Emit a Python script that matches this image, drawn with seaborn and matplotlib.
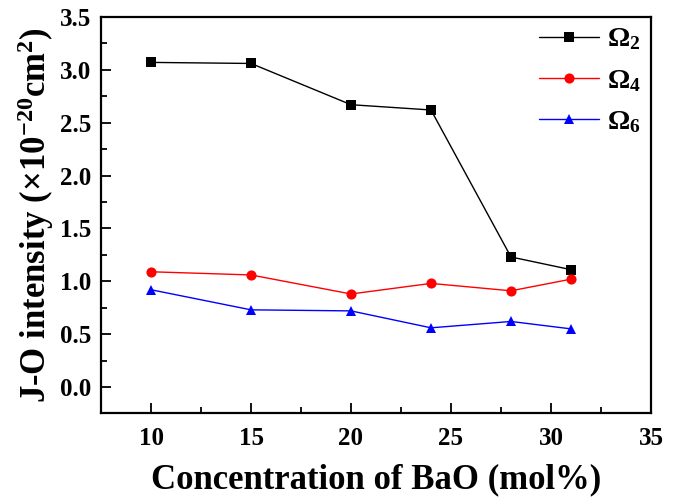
import matplotlib
matplotlib.use("Agg")
import matplotlib.pyplot as plt
import seaborn as sns
import pandas as pd
from matplotlib.ticker import MultipleLocator

# BaO content (mol%) and Judd-Ofelt parameters (x10^-20 cm^2)
bao = [10, 15, 20, 24, 28, 31]
omega2 = [3.07, 3.06, 2.67, 2.62, 1.23, 1.11]
omega4 = [1.09, 1.06, 0.88, 0.98, 0.91, 1.02]
omega6 = [0.92, 0.73, 0.72, 0.56, 0.62, 0.55]
series_labels = [r"$\mathbf{\Omega}_\mathbf{2}$", r"$\mathbf{\Omega}_\mathbf{4}$", r"$\mathbf{\Omega}_\mathbf{6}$"]
x_ticks = [10, 15, 20, 25, 30, 35]
y_ticks = [0.0, 0.5, 1.0, 1.5, 2.0, 2.5, 3.0, 3.5]

df = pd.concat([
    pd.DataFrame({"BaO": bao, "value": vals, "param": lab})
    for vals, lab in zip([omega2, omega4, omega6], series_labels)
])

sns.set_style("ticks")
plt.rcParams.update({
    "font.family": ["Liberation Serif", "DejaVu Serif"],
    "font.weight": "bold",
    "mathtext.fontset": "custom",
    "mathtext.rm": "Liberation Serif:bold",
    "mathtext.bf": "Liberation Serif:bold",
    "mathtext.it": "Liberation Serif:bold",
    "text.color": "black",
    "axes.labelcolor": "black",
    "axes.edgecolor": "black",
    "xtick.color": "black",
    "ytick.color": "black",
})

fig = plt.figure(figsize=(6.84, 5.01), dpi=100)
ax = fig.add_axes([0.1477, 0.1762, 0.804, 0.790])

sns.lineplot(
    data=df, x="BaO", y="value", hue="param", style="param",
    palette=["black", "red", "blue"], markers=["s", "o", "^"], dashes=False,
    markersize=7.3, markeredgewidth=0, linewidth=1.0, ax=ax,
)

ax.set_xlim(7.5, 35)
ax.set_ylim(-0.243, 3.5)
ax.set_xticks(x_ticks)
ax.set_yticks(y_ticks)
ax.set_yticklabels([f"{v:.1f}" for v in y_ticks])
ax.xaxis.set_minor_locator(MultipleLocator(2.5))
ax.yaxis.set_minor_locator(MultipleLocator(0.25))
ax.tick_params(which="both", direction="in", top=False, right=False,
               labelsize=18, width=1.3)
ax.tick_params(axis="x", pad=10)
ax.tick_params(axis="y", pad=7)
ax.tick_params(which="major", length=7)
ax.tick_params(which="minor", length=4)
for lab in ax.get_xticklabels() + ax.get_yticklabels():
    lab.set_fontweight("bold")
for sp in ax.spines.values():
    sp.set_linewidth(1.6)
    sp.set_visible(True)

ax.set_xlabel("Concentration of BaO (mol%)", fontsize=25, fontweight="bold", labelpad=10)
ax.set_ylabel(r"J-O intensity ($\times$10$^{-20}$cm$^{2}$)", fontsize=25,
              fontweight="bold", labelpad=3)

leg = ax.legend(loc="upper right", frameon=False, fontsize=20, handlelength=2.15,
                handletextpad=0.3, labelspacing=0.55, borderpad=0.0,
                borderaxespad=0.35, title=None)

fig.savefig("out.png", dpi=100)
